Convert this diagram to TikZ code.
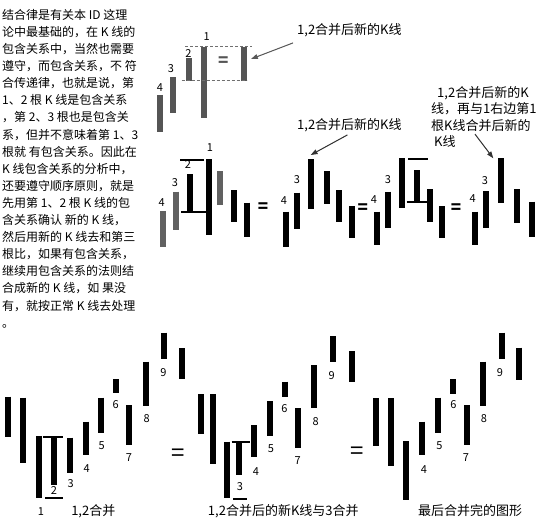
\documentclass[tikz,border=0pt]{standalone}
\usepackage{fontspec}
\setmainfont{Noto Sans CJK SC}
\usepackage{tikz}
\usetikzlibrary{arrows.meta}
\definecolor{kgray}{HTML}{555555}
\definecolor{kdash}{HTML}{707070}

\begin{document}
\begin{tikzpicture}[
  x=1pt, y=-1pt,
  kbar/.style={draw=black, line width=5.8pt, line cap=butt},
  gbar/.style={kbar, draw=kgray, line width=6pt},
  rule/.style={draw=black, line width=1.8pt},
  dashrule/.style={draw=kdash, line width=1pt, dash pattern=on 3pt off 2pt},
  num/.style={font=\fontsize{11}{11}\selectfont, inner sep=0pt},
  eq/.style={font=\fontsize{17}{17}\selectfont\bfseries, inner sep=0pt},
  bigeq/.style={font=\fontsize{24}{24}\selectfont, inner sep=0pt},
  para/.style={font=\fontsize{12}{17.1}\selectfont, inner sep=0pt, align=left},
  note/.style={font=\fontsize{13}{16.6}\selectfont, inner sep=0pt, align=left},
  figcap/.style={font=\fontsize{13}{13}\selectfont, inner sep=0pt},
  pointer/.style={-{Triangle[length=2.4mm,width=1.7mm]}, line width=1pt, draw=black!80, fill=black!80},
]
\useasboundingbox (0,0) rectangle (540,524);

% explanation on the left
\node[para, anchor=north west] (txt) at (2,9) {%
结合律是有关本 ID 这理\\
论中最基础的，在 K 线的\\
包含关系中，当然也需要\\
遵守，而包含关系，不 符\\
合传递律，也就是说，第\\
1、2 根 K 线是包含关系\\
，第 2、3 根也是包含关\\
系，但并不意味着第 1、3\\
根就 有包含关系。因此在\\
K 线包含关系的分析中，\\
还要遵守顺序原则，就是\\
先用第 1、2 根 K 线的包\\
含关系确认 新的 K 线，\\
然后用新的 K 线去和第三\\
根比，如果有包含关系，\\
继续用包含关系的法则结\\
合成新的 K 线，如 果没\\
有，就按正常 K 线去处理\\
。};

% top: 1 and 2 merged
\foreach \x/\ya/\yb in {160/95/131.7, 172.7/77.3/113.3, 189/58.3/81, 204.3/46.7/118.3, 244.3/46.7/81}
  \draw[gbar] (\x,\ya) -- (\x,\yb);
\draw[dashrule] (185,46.7) -- (251.7,46.7);
\draw[dashrule] (181.7,81) -- (246.7,81);
\node[eq, text=kgray] (teq) at (223.3,61.7) {=};
\foreach \n/\x/\y in {1/206.7/36.7, 2/188.3/53.3, 3/171/68.3, 4/160/87.3}
  \node[num] (t\n) at (\x,\y) {\n};
\coordinate (tnew) at (251,59);
\node[note, anchor=west] (ann1) at (297,30) {1,2合并后新的K线};
\draw[pointer, draw=black!65, fill=black!65] ([shift={(-4,6)}]ann1.south west) -- (tnew);

% middle row, first group
\foreach \x/\ya/\yb in {162.7/211/246.7, 176/191.7/230, 220/171/205}
  \draw[gbar, draw=black!62] (\x,\ya) -- (\x,\yb);
\foreach \x/\ya/\yb in {190/174/211.7, 208.7/159/235, 234/190/221.7, 246.7/202.7/236.7}
  \draw[kbar] (\x,\ya) -- (\x,\yb);
\draw[rule] (180,160) -- (204,160);
\draw[rule] (181,211.7) -- (206.7,211.7);
\foreach \n/\x/\y in {1/210/148, 2/188/165, 3/175/183, 4/161.7/203}
  \node[num] (ma\n) at (\x,\y) {\n};
\node[eq] (meq1) at (263,208) {=};

% middle row, second group
\foreach \x/\ya/\yb in {285.7/211.7/246.7, 297/192.7/229, 310.7/159/209, 326.7/171/204, 339/190/221.7, 351.7/206/238}
  \draw[kbar] (\x,\ya) -- (\x,\yb);
\foreach \n/\x/\y in {3/297/180, 4/284/200.7}
  \node[num] (mb\n) at (\x,\y) {\n};
\coordinate (mnew) at (310.7,155);
\node[note, anchor=west] (ann2) at (297,125) {1,2合并后新的K线};
\draw[pointer] ([shift={(-2,3)}]ann2.south) -- (mnew);
\node[eq] (meq2) at (362.7,209) {=};

% middle row, third group
\foreach \x/\ya/\yb in {376.7/211.7/245, 388.3/191.7/228.3, 401.7/158.3/208.3, 417.3/170/201.7, 430/189.3/221.7, 442.3/206/238.3}
  \draw[kbar] (\x,\ya) -- (\x,\yb);
\draw[rule] (408,159.3) -- (428,159.3);
\draw[rule] (406.7,201.7) -- (427.3,201.7);
\foreach \n/\x/\y in {3/388/179.3, 4/374/200}
  \node[num] (mc\n) at (\x,\y) {\n};
\node[eq] (meq3) at (456,209) {=};

% middle row, fourth group
\foreach \x/\ya/\yb in {475/211.7/245, 485.7/191/227.7, 500.7/158.3/203.3, 517.3/189.3/223.3, 532.3/201.7/236.7}
  \draw[kbar] (\x,\ya) -- (\x,\yb);
\foreach \n/\x/\y in {3/485/180.7, 4/472.7/198.3}
  \node[num] (md\n) at (\x,\y) {\n};
\coordinate (dnew) at (493.3,158.3);
\node[note, anchor=north west] (ann3) at (431,86) {\hspace*{6pt}1,2合并后新的K\\线，再与1右边第1\\根K线合并后新的\\\hspace*{3pt}K线};
\draw[pointer] ([shift={(44,-14)}]ann3.south west) -- (dnew);

% bottom row, first group
\foreach \x/\ya/\yb in {8.3/396.7/436.7, 23.3/397.7/462.7, 39.3/436/498.3, 54.3/436.7/485, 70/437.7/472.7, 85.7/421.7/455, 101/397.7/432.7, 116/379/393.3, 129.3/405/445, 145.7/361.7/406, 164.3/332.7/359, 182.3/348.3/379.3}
  \draw[kbar] (\x,\ya) -- (\x,\yb);
\draw[rule] (42.7,436.7) -- (63.3,436.7);
\draw[rule] (45,497.7) -- (63.3,497.7);
\foreach \n/\x/\y in {1/41/511.7, 2/54/491, 3/70.7/483.3, 4/86.7/469, 5/101.7/446, 6/115.7/405, 7/129/457.7, 8/146.7/419, 9/163.3/372.3}
  \node[num] (ba\n) at (\x,\y) {\n};
\node[figcap] (cap1) at (93.3,511.7) {1,2合并};
\node[bigeq] (beq1) at (178.5,455) {=};

% bottom row, second group
\foreach \x/\ya/\yb in {200.7/394/434.3, 213.3/394/464.3, 227.3/441.7/498.3, 239/442.3/475, 254.3/425/457.3, 270/401/435.7, 285/381.7/396.7, 298.3/408.3/447.7, 314/365/408.3, 333.3/336/361.7, 351.7/351/382.3}
  \draw[kbar] (\x,\ya) -- (\x,\yb);
\draw[rule] (231.7,442.3) -- (250,442.3);
\draw[rule] (233.3,499) -- (247.3,499);
\foreach \n/\x/\y in {3/240/486.7, 4/256/471.7, 5/271/448.3, 6/284.3/408.3, 7/297.7/460.7, 8/315.7/421.7, 9/331.7/376}
  \node[num] (bb\n) at (\x,\y) {\n};
\node[figcap] (cap2) at (283.3,511.7) {1,2合并后的新K线与3合并};
\node[bigeq] (beq2) at (357,453) {=};

% bottom row, third group
\foreach \x/\ya/\yb in {376/398.3/446, 391/398.3/465.7, 406/441/500, 422.3/421.7/455, 438.3/397.7/432.7, 453.3/379/394, 466.7/405/445, 482.7/361.7/406, 501.7/332.7/359, 519.3/347.7/380}
  \draw[kbar] (\x,\ya) -- (\x,\yb);
\foreach \n/\x/\y in {4/424/469.3, 5/439.3/446, 6/453.3/405, 7/466/457.3, 8/484/419, 9/500/372.3}
  \node[num] (bc\n) at (\x,\y) {\n};
\node[figcap] (cap3) at (470,511) {最后合并完的图形};
\end{tikzpicture}
\end{document}
